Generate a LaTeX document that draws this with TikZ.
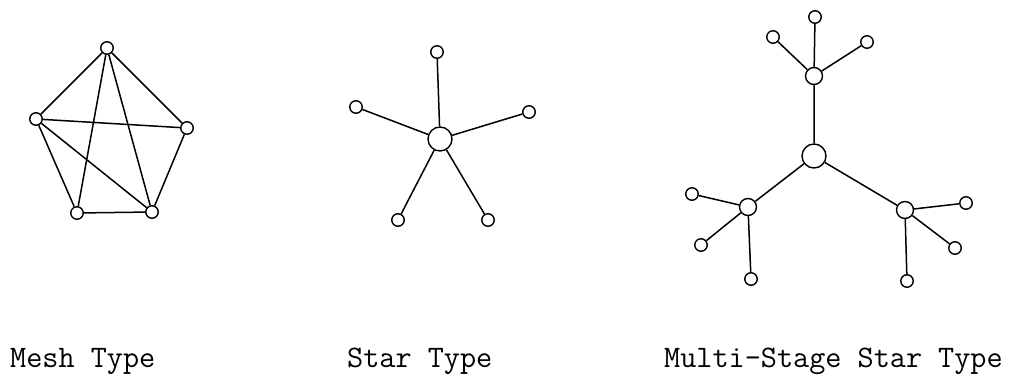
\documentclass[tikz,border=0pt]{standalone}
\begin{document}
\begin{tikzpicture}[x=1pt,y=-1pt,
  leaf/.style={circle,draw,line width=1.4pt,fill=white,inner sep=0pt,minimum size=12.5pt},
  hub/.style={circle,draw,line width=1.4pt,fill=white,inner sep=0pt,minimum size=17pt},
  core/.style={circle,draw,line width=1.4pt,fill=white,inner sep=0pt,minimum size=24pt},
  link/.style={line width=1.5pt},
  caption/.style={font=\ttfamily\fontsize{31.3}{35}\selectfont,anchor=base west,inner sep=0pt}]
\useasboundingbox (0,0) rectangle (1014,382);

% Mesh network
\node[leaf] (mt) at (107,48) {};
\node[leaf] (ml) at (36,119) {};
\node[leaf] (mr) at (187,128) {};
\node[leaf] (mbl) at (77,213) {};
\node[leaf] (mbr) at (152,212) {};
\draw[link] (mt) -- (ml) (mt) -- (mr) (mt) -- (mbl) (mt) -- (mbr)
  (ml) -- (mr) (ml) -- (mbl) (ml) -- (mbr) (mr) -- (mbr) (mbl) -- (mbr);

% Star network
\node[core] (sc) at (440,139) {};
\node[leaf] (s1) at (437,52) {};
\node[leaf] (s2) at (356,107) {};
\node[leaf] (s3) at (529,112) {};
\node[leaf] (s4) at (398,220) {};
\node[leaf] (s5) at (488,220) {};
\foreach \n in {s1,s2,s3,s4,s5} \draw[link] (sc) -- (\n);

% Multi-stage star network
\node[core] (c) at (814,156) {};
\node[hub] (ht) at (814,76) {};
\node[hub] (hl) at (748,207) {};
\node[hub] (hr) at (905,210) {};
\node[leaf] (t1) at (815,17) {};
\node[leaf] (t2) at (773,37) {};
\node[leaf] (t3) at (867,42) {};
\node[leaf] (l1) at (692,194) {};
\node[leaf] (l2) at (701,245) {};
\node[leaf] (l3) at (751,279) {};
\node[leaf] (r1) at (966,203) {};
\node[leaf] (r2) at (955,248) {};
\node[leaf] (r3) at (907,281) {};
\draw[link] (c) -- (ht) (c) -- (hl) (c) -- (hr);
\foreach \n in {t1,t2,t3} \draw[link] (ht) -- (\n);
\foreach \n in {l1,l2,l3} \draw[link] (hl) -- (\n);
\foreach \n in {r1,r2,r3} \draw[link] (hr) -- (\n);

% Captions
\node[caption] (cap1) at (10,367) {Mesh Type};
\node[caption] (cap2) at (347,367) {Star Type};
\node[caption] (cap3) at (664,367) {Multi-Stage Star Type};
\end{tikzpicture}
\end{document}
